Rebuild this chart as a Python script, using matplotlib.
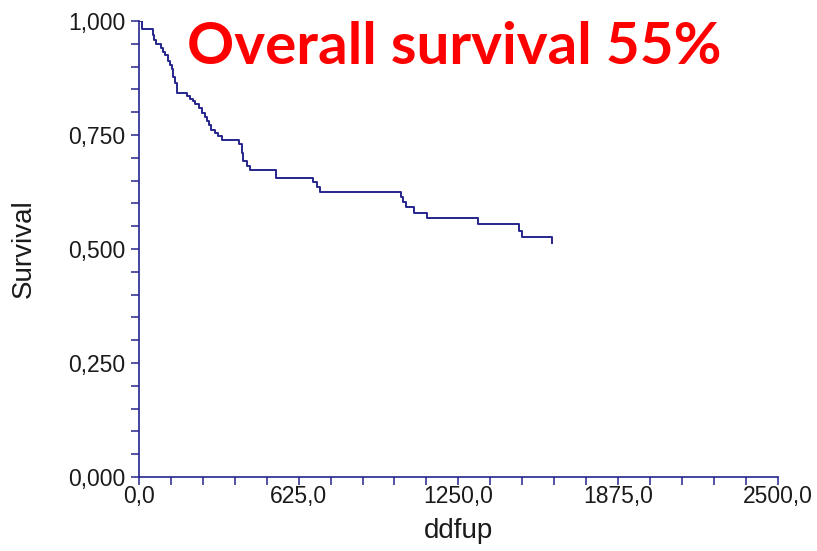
import numpy as np
import matplotlib.pyplot as plt
from matplotlib.ticker import MultipleLocator, FuncFormatter

# Kaplan-Meier estimate: event times (days) and survival after each event
times = [0, 14, 54, 60, 67, 86, 94, 102, 113, 121, 128, 134, 141, 149,
         189, 200, 212, 219, 235, 245, 258, 265, 275, 284, 297, 309, 324,
         391, 402, 407, 423, 434, 535, 680, 696, 708,
         1026, 1032, 1047, 1076, 1126, 1325, 1487, 1500, 1616]
survival = [1.000, 0.982, 0.969, 0.959, 0.950, 0.941, 0.932, 0.925, 0.912,
            0.904, 0.894, 0.877, 0.864, 0.843,
            0.836, 0.830, 0.825, 0.819, 0.809, 0.798, 0.789, 0.780, 0.772,
            0.762, 0.754, 0.748, 0.740,
            0.730, 0.711, 0.694, 0.682, 0.673, 0.656, 0.647, 0.636, 0.626,
            0.615, 0.602, 0.593, 0.580, 0.567, 0.555, 0.540, 0.527, 0.514]

title = "Overall survival 55%"
navy = "#25258C"

plt.rcParams['font.family'] = ['Liberation Sans', 'DejaVu Sans']

fig = plt.figure(figsize=(8.17, 5.51), dpi=100)
ax = fig.add_axes([0.170, 0.1343, 0.782, 0.8276])

ax.step(times, survival, where='post', color=navy, lw=1.4)

ax.set_xlim(0, 2500)
ax.set_ylim(0, 1.0)
ax.xaxis.set_major_locator(MultipleLocator(625))
ax.xaxis.set_minor_locator(MultipleLocator(125))
ax.yaxis.set_major_locator(MultipleLocator(0.25))
ax.yaxis.set_minor_locator(MultipleLocator(0.05))
ax.xaxis.set_major_formatter(FuncFormatter(lambda v, p: f"{v:.1f}".replace('.', ',')))
ax.yaxis.set_major_formatter(FuncFormatter(lambda v, p: f"{v:.3f}".replace('.', ',')))

for side in ['top', 'right']:
    ax.spines[side].set_visible(False)
for side in ['left', 'bottom']:
    ax.spines[side].set_color(navy)
    ax.spines[side].set_linewidth(1.2)

ax.tick_params(which='both', direction='out', color=navy, width=1.1,
               length=6, labelsize=16.5, labelcolor='#1a1a1a')
ax.tick_params(axis='x', pad=0)
ax.tick_params(axis='y', pad=4)

ax.set_xlabel("ddfup", fontsize=20, color='#1a1a1a', labelpad=7)
ax.set_ylabel("Survival", fontsize=20, color='#1a1a1a', labelpad=22)

fig.text(0.556, 0.914, title, color='#ff0000', fontsize=42,
         fontweight='bold', family=['Lato', 'DejaVu Sans'],
         ha='center', va='center')

fig.savefig("out.png", dpi=100)
